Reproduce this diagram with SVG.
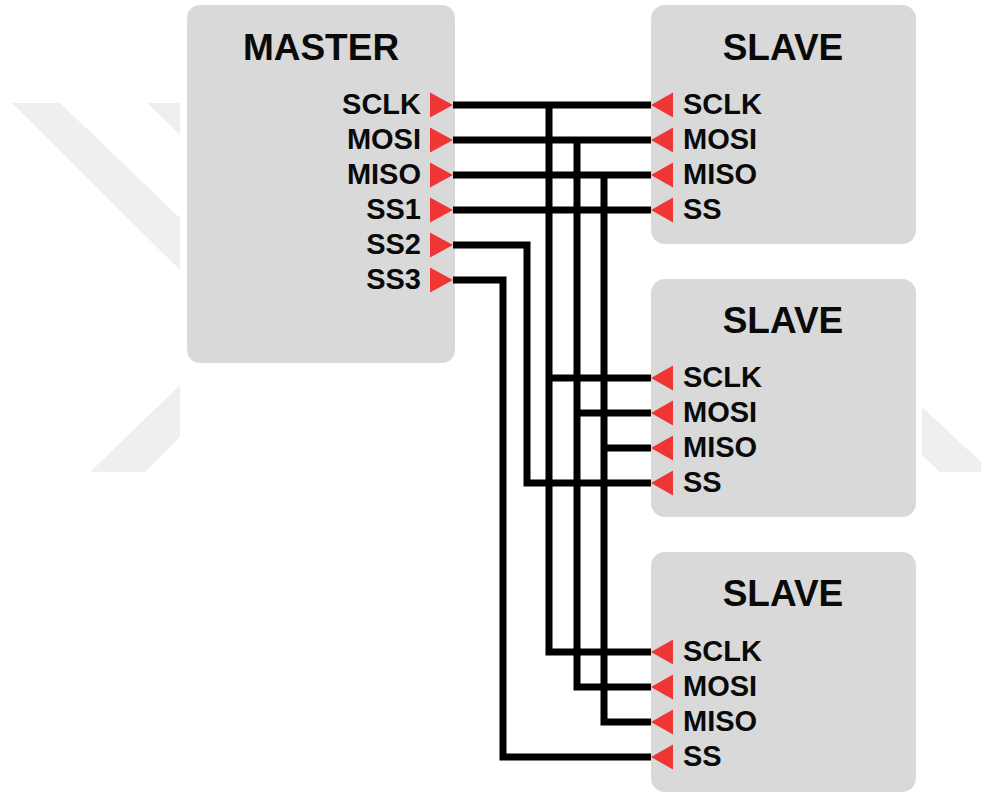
<svg xmlns="http://www.w3.org/2000/svg" width="981" height="792" viewBox="0 0 981 792">
  <defs>
    <style>
      .box { fill: #d9d9d9; }
      .title { font-family: "Liberation Sans", Arial, sans-serif; font-weight: bold; font-size: 37px; fill: #0a0a0a; text-anchor: middle; }
      .lbl { font-family: "Liberation Sans", Arial, sans-serif; font-weight: bold; font-size: 29px; fill: #0a0a0a; }
      .lblr { text-anchor: end; }
      .pin { fill: #f03535; }
      .wire { fill: none; stroke: #000; stroke-width: 7; stroke-linejoin: miter; }
      .wm { fill: #efefef; }
    </style>
  </defs>
  <rect width="981" height="792" fill="#fff"/>
  <g id="watermark">
    <polygon class="wm" points="12,103 60,103 180,218 180,270"/>
    <polygon class="wm" points="147,103 180,103 180,135"/>
    <polygon class="wm" points="90,472 145,472 180,437 180,385"/>
    <polygon class="wm" points="922,407 981,462 981,472 940,472 922,455"/>
  </g>
  <g id="master">
    <rect class="box" x="187" y="5" width="268" height="358" rx="13"/>
    <text class="title" x="321" y="60">MASTER</text>
    <text class="lbl lblr" x="421" y="114">SCLK</text>
    <text class="lbl lblr" x="421" y="149">MOSI</text>
    <text class="lbl lblr" x="421" y="184">MISO</text>
    <text class="lbl lblr" x="421" y="219">SS1</text>
    <text class="lbl lblr" x="421" y="254">SS2</text>
    <text class="lbl lblr" x="421" y="289">SS3</text>
    <polygon class="pin" points="430,92.5 453,105 430,117.5"/>
    <polygon class="pin" points="430,127.5 453,140 430,152.5"/>
    <polygon class="pin" points="430,162.5 453,175 430,187.5"/>
    <polygon class="pin" points="430,197.5 453,210 430,222.5"/>
    <polygon class="pin" points="430,232.5 453,245 430,257.5"/>
    <polygon class="pin" points="430,267.5 453,280 430,292.5"/>
  </g>
  <g id="slave1">
    <rect class="box" x="651" y="5" width="265" height="239" rx="14"/>
    <text class="title" x="783" y="60">SLAVE</text>
    <text class="lbl" x="683" y="114">SCLK</text>
    <text class="lbl" x="683" y="149">MOSI</text>
    <text class="lbl" x="683" y="184">MISO</text>
    <text class="lbl" x="683" y="219">SS</text>
    <polygon class="pin" points="673,92.5 651,105 673,117.5"/>
    <polygon class="pin" points="673,127.5 651,140 673,152.5"/>
    <polygon class="pin" points="673,162.5 651,175 673,187.5"/>
    <polygon class="pin" points="673,197.5 651,210 673,222.5"/>
  </g>
  <g id="slave2">
    <rect class="box" x="651" y="279" width="265" height="238" rx="14"/>
    <text class="title" x="783" y="333">SLAVE</text>
    <text class="lbl" x="683" y="387">SCLK</text>
    <text class="lbl" x="683" y="422">MOSI</text>
    <text class="lbl" x="683" y="457">MISO</text>
    <text class="lbl" x="683" y="492">SS</text>
    <polygon class="pin" points="673,365.5 651,378 673,390.5"/>
    <polygon class="pin" points="673,400.5 651,413 673,425.5"/>
    <polygon class="pin" points="673,435.5 651,448 673,460.5"/>
    <polygon class="pin" points="673,470.5 651,483 673,495.5"/>
  </g>
  <g id="slave3">
    <rect class="box" x="651" y="552" width="265" height="240" rx="14"/>
    <text class="title" x="783" y="606">SLAVE</text>
    <text class="lbl" x="683" y="661">SCLK</text>
    <text class="lbl" x="683" y="696">MOSI</text>
    <text class="lbl" x="683" y="731">MISO</text>
    <text class="lbl" x="683" y="766">SS</text>
    <polygon class="pin" points="673,639.5 651,652 673,664.5"/>
    <polygon class="pin" points="673,674.5 651,687 673,699.5"/>
    <polygon class="pin" points="673,709.5 651,722 673,734.5"/>
    <polygon class="pin" points="673,744.5 651,757 673,769.5"/>
  </g>
  <g id="connectors">
    <path class="wire" d="M453,105 H651 M549,105 V652 H651 M549,378 H651"/>
    <path class="wire" d="M453,140 H651 M577,140 V687 H651 M577,413 H651"/>
    <path class="wire" d="M453,175 H651 M604,175 V722 H651 M604,448 H651"/>
    <path class="wire" d="M453,210 H651"/>
    <path class="wire" d="M453,245 H527 V483 H651"/>
    <path class="wire" d="M453,280 H503 V757 H651"/>
  </g>
</svg>
